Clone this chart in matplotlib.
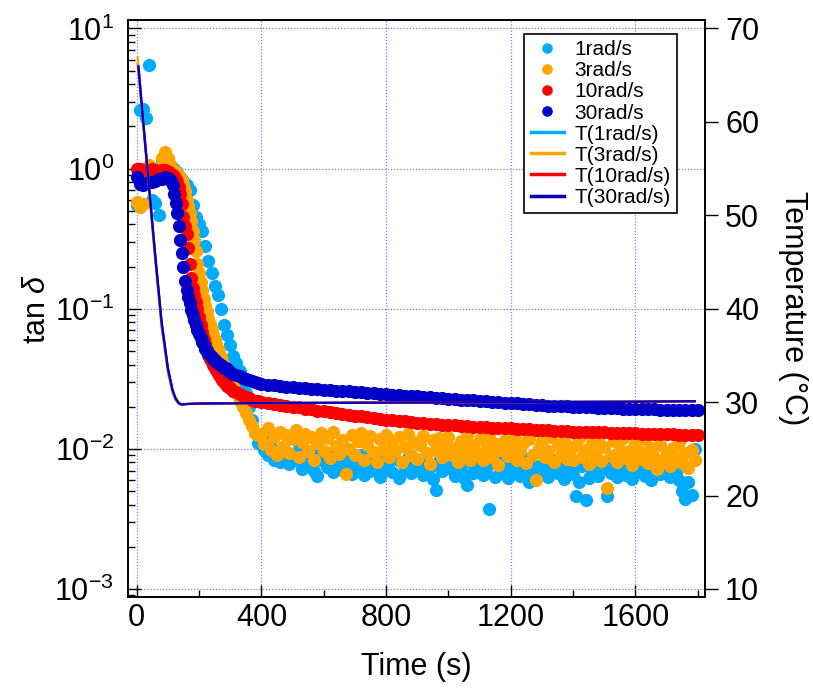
import numpy as np
import matplotlib
matplotlib.use("Agg")
import matplotlib.pyplot as plt
from matplotlib.ticker import MultipleLocator, LogLocator, NullFormatter

plt.rcParams['font.family'] = ['Liberation Sans', 'DejaVu Sans']
plt.rcParams['mathtext.fontset'] = 'custom'
plt.rcParams['mathtext.rm'] = 'Liberation Sans'
plt.rcParams['mathtext.it'] = 'Liberation Sans:italic'

# sampling times (s)
time_10 = np.arange(0, 400, 10)
time_head = np.arange(0, 100, 10)
time_mid = np.arange(100, 300, 5)
time_late = np.arange(300, 400, 10)
time_tail_10 = np.arange(400, 1800, 10)
time_tail_20 = np.arange(400, 1801, 20)

# tan delta, 1 rad/s
tan_1_early = [0.55, 2.6, 2.65, 2.3, 5.5, 0.6, 0.57, 0.47, 1.15, 1.18,
               1.1, 1.05, 1.0, 0.95, 0.87, 0.82, 0.76, 0.70, 0.55, 0.45,
               0.40, 0.36, 0.28, 0.22, 0.18, 0.145, 0.125, 0.10, 0.076, 0.065,
               0.055, 0.046, 0.041, 0.036, 0.030, 0.025, 0.020, 0.016, 0.013, 0.011]
tan_1_tail = [0.0110, 0.0098, 0.0090, 0.0115, 0.0084, 0.0096, 0.0080, 0.0104, 0.0088, 0.0078,
              0.0092, 0.0083, 0.0100, 0.0072, 0.0087, 0.0079, 0.0095, 0.0070, 0.0064, 0.0083,
              0.0090, 0.0074, 0.0086, 0.0068, 0.0094, 0.0079, 0.0071, 0.0088, 0.0077, 0.0066,
              0.0084, 0.0072, 0.0091, 0.0065, 0.0081, 0.0070, 0.0087, 0.0076, 0.0063, 0.0082,
              0.0075, 0.0089, 0.0068, 0.0085, 0.0062, 0.0080, 0.0071, 0.0086, 0.0067, 0.0078,
              0.0072, 0.0084, 0.0065, 0.0080, 0.0074, 0.0061, 0.0051, 0.0082, 0.0069, 0.0077,
              0.0073, 0.0083, 0.0064, 0.0079, 0.0070, 0.0062, 0.0055, 0.0080, 0.0067, 0.0075,
              0.0082, 0.0065, 0.0073, 0.0037, 0.0079, 0.0063, 0.0085, 0.0069, 0.0076, 0.0062,
              0.0080, 0.0068, 0.0075, 0.0064, 0.0086, 0.0071, 0.0058, 0.0078, 0.0066, 0.0074,
              0.0070, 0.0081, 0.0063, 0.0076, 0.0084, 0.0067, 0.0073, 0.0061, 0.0079, 0.0071,
              0.0066, 0.0046, 0.0058, 0.0075, 0.0043, 0.0062, 0.0070, 0.0080, 0.0064, 0.0073,
              0.0077, 0.0046, 0.0067, 0.0082, 0.0063, 0.0072, 0.0078, 0.0065, 0.0074, 0.0061,
              0.0075, 0.0068, 0.0081, 0.0064, 0.0073, 0.0060, 0.0079, 0.0069, 0.0066, 0.0074,
              0.0071, 0.0063, 0.0077, 0.0067, 0.0060, 0.0050, 0.0044, 0.0058, 0.0047, 0.0100]

# tan delta, 3 rad/s
tan_3_head = [0.58, 0.53, 0.56, 0.8, 1.06, 1.0, 0.95, 1.0, 1.2, 1.32]
tan_3_mid = [1.2, 1.1, 1.02, 0.98, 0.96, 0.94, 0.92, 0.89, 0.86, 0.82,
             0.78, 0.69, 0.6, 0.54, 0.48, 0.42, 0.36, 0.31, 0.26, 0.21,
             0.18, 0.155, 0.135, 0.118, 0.105, 0.095, 0.085, 0.078, 0.071, 0.065,
             0.060, 0.056, 0.052, 0.048, 0.045, 0.042, 0.040, 0.037, 0.035, 0.0335]
tan_3_late = [0.032, 0.028, 0.025, 0.022, 0.020, 0.018, 0.016, 0.0145, 0.013, 0.0125]
tan_3_tail = [0.0128, 0.0108, 0.0140, 0.0098, 0.0122, 0.0090, 0.0132, 0.0104, 0.0125, 0.0094,
              0.0118, 0.0136, 0.0088, 0.0112, 0.0128, 0.0097, 0.0121, 0.0084, 0.0110, 0.0130,
              0.0096, 0.0120, 0.0086, 0.0131, 0.0105, 0.0092, 0.0116, 0.0066, 0.0100, 0.0126,
              0.0090, 0.0113, 0.0130, 0.0083, 0.0106, 0.0124, 0.0095, 0.0080, 0.0118, 0.0099,
              0.0125, 0.0087, 0.0109, 0.0096, 0.0121, 0.0081, 0.0104, 0.0128, 0.0091, 0.0112,
              0.0085, 0.0106, 0.0124, 0.0093, 0.0078, 0.0115, 0.0098, 0.0120, 0.0087, 0.0104,
              0.0122, 0.0090, 0.0102, 0.0080, 0.0113, 0.0095, 0.0126, 0.0084, 0.0107, 0.0092,
              0.0117, 0.0083, 0.0100, 0.0121, 0.0088, 0.0108, 0.0077, 0.0098, 0.0116, 0.0089,
              0.0104, 0.0122, 0.0084, 0.0097, 0.0111, 0.0079, 0.0118, 0.0091, 0.0060, 0.0101,
              0.0114, 0.0087, 0.0096, 0.0121, 0.0080, 0.0106, 0.0090, 0.0113, 0.0085, 0.0099,
              0.0083, 0.0107, 0.0119, 0.0088, 0.0098, 0.0078, 0.0111, 0.0092, 0.0116, 0.0082,
              0.0103, 0.0053, 0.0089, 0.0113, 0.0080, 0.0099, 0.0120, 0.0086, 0.0096, 0.0077,
              0.0109, 0.0085, 0.0095, 0.0117, 0.0079, 0.0101, 0.0088, 0.0072, 0.0106, 0.0083,
              0.0094, 0.0076, 0.0102, 0.0085, 0.0112, 0.0079, 0.0093, 0.0073, 0.0098, 0.0084]

# tan delta, 10 rad/s
tan_10_head = [1.0, 1.0, 0.97, 0.95, 0.97, 1.0, 0.98, 0.96, 0.98, 0.98]
tan_10_mid = [0.95, 0.94, 0.92, 0.90, 0.88, 0.85, 0.80, 0.74, 0.66, 0.56,
              0.45, 0.39, 0.34, 0.27, 0.21, 0.165, 0.14, 0.125, 0.112, 0.1,
              0.088, 0.077, 0.068, 0.061, 0.056, 0.051, 0.047, 0.044, 0.042, 0.040,
              0.038, 0.0365, 0.035, 0.0335, 0.032, 0.031, 0.030, 0.029, 0.028, 0.0275]
tan_10_late = [0.027, 0.026, 0.0253, 0.0246, 0.024, 0.0234, 0.0229, 0.0225, 0.0221, 0.0218]
tan_10_tail = [0.0215, 0.0213, 0.0208, 0.0207, 0.0202, 0.0200, 0.0198, 0.0193, 0.0192, 0.0187,
               0.0185, 0.0184, 0.0179, 0.0178, 0.0175, 0.0172, 0.0171, 0.0168, 0.0167, 0.0164,
               0.0162, 0.0161, 0.0158, 0.0158, 0.0155, 0.0153, 0.0153, 0.0151, 0.0150, 0.0149,
               0.0148, 0.0147, 0.0146, 0.0146, 0.0144, 0.0144, 0.0143, 0.0142, 0.0141, 0.0141,
               0.0140, 0.0139, 0.0139, 0.0138, 0.0137, 0.0136, 0.0136, 0.0135, 0.0135, 0.0134,
               0.0133, 0.0133, 0.0132, 0.0132, 0.0131, 0.0131, 0.0130, 0.0130, 0.0130, 0.0129,
               0.0129, 0.0128, 0.0128, 0.0128, 0.0127, 0.0127, 0.0127, 0.0126, 0.0126, 0.0126, 0.0126]

# tan delta, 30 rad/s
tan_30_head = [0.87, 0.78, 0.76, 0.79, 0.80, 0.80, 0.82, 0.84, 0.85, 0.87]
tan_30_mid = [0.86, 0.85, 0.82, 0.76, 0.66, 0.57, 0.48, 0.39, 0.31, 0.25,
              0.20, 0.158, 0.135, 0.122, 0.11, 0.098, 0.09, 0.083, 0.077, 0.071,
              0.066, 0.062, 0.058, 0.055, 0.052, 0.050, 0.048, 0.0465, 0.045, 0.044,
              0.043, 0.042, 0.041, 0.0405, 0.040, 0.039, 0.038, 0.0375, 0.037, 0.036]
tan_30_late = [0.0355, 0.0345, 0.0337, 0.033, 0.0323, 0.0317, 0.0311, 0.0305, 0.0299, 0.0294]
tan_30_tail = [0.0290, 0.0287, 0.0284, 0.0281, 0.0278, 0.0275, 0.0273, 0.0271, 0.0269, 0.0267,
               0.0265, 0.0263, 0.0261, 0.0259, 0.0257, 0.0255, 0.0253, 0.0251, 0.0249, 0.0247,
               0.0245, 0.0243, 0.0242, 0.0240, 0.0239, 0.0237, 0.0235, 0.0233, 0.0232, 0.0230,
               0.0228, 0.0226, 0.0225, 0.0223, 0.0222, 0.0220, 0.0218, 0.0217, 0.0215, 0.0214,
               0.0212, 0.0211, 0.0209, 0.0208, 0.0206, 0.0205, 0.0204, 0.0203, 0.0202, 0.0201,
               0.0200, 0.0199, 0.0198, 0.0198, 0.0197, 0.0196, 0.0195, 0.0195, 0.0194, 0.0194,
               0.0193, 0.0193, 0.0192, 0.0192, 0.0191, 0.0191, 0.0190, 0.0190, 0.0190, 0.0189, 0.0189]

# temperature (deg C)
temp_time_1 = [3, 20, 40, 60, 80, 100, 115, 125, 135, 145, 160, 200, 400, 800, 1200, 1600, 1790]
temp_1 = [66.2, 60.0, 52.5, 45.0, 38.0, 33.2, 31.0, 30.2, 29.8, 29.7, 29.8, 29.85, 29.9, 29.95, 30.0, 30.05, 30.1]
temp_time_3 = [3, 20, 40, 60, 80, 100, 115, 125, 135, 145, 160, 200, 400, 800, 1200, 1600, 1790]
temp_3 = [66.9, 60.6, 53.0, 45.5, 38.5, 33.5, 31.2, 30.3, 29.85, 29.75, 29.8, 29.85, 29.9, 29.95, 30.0, 30.05, 30.1]
temp_time_10 = [5, 20, 40, 60, 80, 100, 115, 125, 135, 145, 160, 200, 400, 800, 1200, 1600, 1790]
temp_10 = [66.0, 60.3, 52.8, 45.4, 38.5, 33.6, 31.3, 30.4, 29.9, 29.75, 29.8, 29.85, 29.9, 29.95, 30.0, 30.05, 30.1]
temp_time_30 = [6, 20, 40, 60, 80, 100, 115, 125, 135, 145, 160, 200, 400, 800, 1200, 1600, 1790]
temp_30 = [65.9, 60.4, 53.0, 45.6, 38.6, 33.7, 31.3, 30.4, 29.9, 29.75, 29.8, 29.85, 29.9, 29.95, 30.0, 30.05, 30.1]

labels = ['1rad/s', '3rad/s', '10rad/s', '30rad/s']
colors = ['#00AAFF', '#FFA500', '#FF0000', '#0000C8']

t_1 = np.concatenate([time_10, time_tail_10])
t_3 = np.concatenate([time_head, time_mid, time_late, time_tail_10])
t_10 = np.concatenate([time_head, time_mid, time_late, time_tail_20])
t_30 = np.concatenate([time_head, time_mid, time_late, time_tail_20])

series = [
    (t_1, tan_1_early + tan_1_tail),
    (t_3, tan_3_head + tan_3_mid + tan_3_late + tan_3_tail),
    (t_10, tan_10_head + tan_10_mid + tan_10_late + tan_10_tail),
    (t_30, tan_30_head + tan_30_mid + tan_30_late + tan_30_tail),
]
temps = [(temp_time_1, temp_1), (temp_time_3, temp_3),
         (temp_time_10, temp_10), (temp_time_30, temp_30)]

fig = plt.figure(figsize=(8.13, 6.89), dpi=100)
ax = fig.add_axes([0.1574, 0.1335, 0.7097, 0.8375])

handles = []
for (t, v), lab, c in zip(series, labels, colors):
    h, = ax.plot(t, v, 'o', color=c, markersize=9.5, markeredgewidth=0, label=lab)
    handles.append(h)

ax.set_yscale('log')
ax.set_xlim(-28, 1823)
ax.set_ylim(8.77e-4, 11.5)
ax.xaxis.set_major_locator(MultipleLocator(400))
ax.xaxis.set_minor_locator(MultipleLocator(200))
ax.yaxis.set_major_locator(LogLocator(base=10, numticks=10))
ax.yaxis.set_minor_locator(LogLocator(base=10, subs=np.arange(2, 10), numticks=20))
ax.yaxis.set_minor_formatter(NullFormatter())
ax.grid(True, which='major', color='#7a7aff', linestyle=(0, (1, 1.5)), linewidth=0.9)
ax.set_axisbelow(True)
ax.tick_params(axis='both', which='major', direction='in', length=9, width=1,
               labelsize=22, colors='black')
ax.tick_params(axis='both', which='minor', direction='in', length=5, width=1)
ax.tick_params(axis='y', which='major', pad=10)
ax.tick_params(axis='x', which='major', pad=4)
ax.set_xlabel('Time (s)', fontsize=22, labelpad=14)
ax.set_ylabel(r'tan $\delta$', fontsize=22, labelpad=2)
for s in ax.spines.values():
    s.set_linewidth(1.2)

ax2 = ax.twinx()
for (tt, T), lab, c in zip(temps, labels, colors):
    h, = ax2.plot(tt, T, '-', color=c, linewidth=1.6, label='T(' + lab + ')')
    handles.append(h)
ax2.set_ylim(9.14, 70.91)
ax2.yaxis.set_major_locator(MultipleLocator(10))
ax2.tick_params(axis='y', direction='out', length=9.5, width=1, labelsize=22, pad=5)
ax2.set_ylabel('Temperature (°C)', fontsize=22, rotation=270, labelpad=35)
for s in ax2.spines.values():
    s.set_linewidth(1.2)

leg = ax2.legend(handles, [h.get_label() for h in handles], loc='upper right',
                 bbox_to_anchor=(0.9515, 0.9757), borderaxespad=0, fontsize=15,
                 frameon=True, fancybox=False, edgecolor='black', framealpha=1,
                 labelspacing=0.1, handlelength=1.6, handletextpad=0.5,
                 borderpad=0.3, markerscale=0.8)
leg.get_frame().set_linewidth(1.2)
for ln in leg.get_lines():
    if ln.get_linestyle() == '-':
        ln.set_linewidth(2.5)

fig.savefig('out.png', dpi=100)
